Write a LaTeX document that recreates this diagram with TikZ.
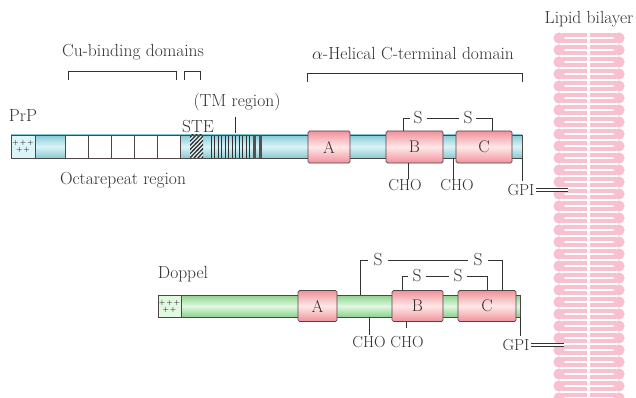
\documentclass[tikz,border=0pt]{standalone}
\usetikzlibrary{calc}
\definecolor{ink}{RGB}{50,50,50}
\definecolor{barblue}{RGB}{135,200,212}
\definecolor{barbluehi}{RGB}{220,245,248}
\definecolor{bargreen}{RGB}{140,210,140}
\definecolor{bargreenhi}{RGB}{225,248,225}
\definecolor{boxpink}{RGB}{240,145,155}
\definecolor{boxpinkhi}{RGB}{255,232,232}
\definecolor{lipid}{RGB}{247,193,209}
\definecolor{edge}{RGB}{80,70,70}
\tikzset{
  lbl/.style={text=ink, inner sep=0pt, font=\fontsize{17.5}{20}\selectfont},
  smalllbl/.style={text=ink, inner sep=0pt, font=\fontsize{16}{18}\selectfont},
  conn/.style={draw=ink, line width=0.8pt},
  bluebar/.style={draw=edge, line width=0.7pt, top color=barblue, bottom color=barblue, middle color=barbluehi},
  greenbar/.style={draw=edge, line width=0.7pt, top color=bargreen, bottom color=bargreen, middle color=bargreenhi},
  pinkbox/.style={draw=edge, line width=0.7pt, rounded corners=1.5pt, top color=boxpink, bottom color=boxpink, middle color=boxpinkhi,
    inner sep=0pt, text=ink, font=\fontsize{17}{18}\selectfont},
  octbox/.style={draw=edge, line width=0.7pt, fill=white},
  ntermbox/.style={draw=edge, line width=0.7pt, inner sep=0pt, font=\fontsize{6}{6}\bfseries\selectfont, text=ink, align=center},
  headc/.style={fill=lipid, draw=none},
}
\begin{document}
\begin{tikzpicture}[x=1pt,y=-1pt]
\useasboundingbox (0,0) rectangle (636,398);
\fill[white] (0,0) rectangle (636,398);

% ---------------- lipid bilayer ----------------
% each phospholipid: one polar head and two fatty-acid tails
\foreach \yy in {38,50,...,398}{
  \foreach \t in {-3,3}{
    \fill[lipid] (562,\yy+\t-1.8) rectangle (586.5,\yy+\t+1.8);
    \fill[lipid] (589.5,\yy+\t-1.8) rectangle (616,\yy+\t+1.8);
  }
  \fill[headc] (559,\yy) circle (5.6);
  \fill[headc] (619,\yy) circle (5.6);
}
\node[lbl] (lipidlbl) at (589,19) {Lipid bilayer};

% ---------------- PrP ----------------
\fill[bluebar] (11,135) rectangle (522,158);
\node[ntermbox, minimum width=24pt, minimum height=23pt, fill=barbluehi] (pn) at (23,146.5) {+\,+\,+\\[1pt]+\,+};
% octarepeats
\foreach \i in {65,88,111,134,157}{
  \draw[octbox] (\i,135) rectangle ++(23,23);
}
% STE hatched block
\begin{scope}
  \clip (190,135) rectangle (203,158);
  \fill[barbluehi] (190,135) rectangle (203,158);
  \foreach \d in {-30,-26,...,20}{
    \draw[ink, line width=1.3pt] (190+\d,160) -- (190+\d+26,133);
  }
\end{scope}
% TM region stripes
\foreach \xx in {211,214.5,218,221.5,225,228.5,232,235.5,239,242.5,246,249.5}{
  \draw[ink, line width=0.8pt] (\xx,135) -- (\xx,158);
}
\fill[ink!85] (253,135) rectangle (256,158);
\fill[ink!85] (258.5,135) rectangle (261.5,158);
\draw[draw=edge, line width=0.7pt] (11,135) rectangle (522,158);

\node[pinkbox, minimum width=42pt, minimum height=32pt] (pA) at (329,147) {A};
\node[pinkbox, minimum width=57pt, minimum height=32pt] (pB) at (414.5,147) {B};
\node[pinkbox, minimum width=56pt, minimum height=32pt] (pC) at (484,147) {C};

\node[lbl] (prp) at (23,116) {PrP};
\node[lbl] (octlbl) at (123,180) {Octarepeat region};
\node[lbl] (ste) at (198,127) {STE};
\node[lbl] (tm) at (237,102) {(TM region)};
\coordinate (tmtop) at (235,117);
\coordinate (tmbot) at (235,133);
\draw[conn] (tmtop) -- (tmbot);

% Cu-binding brackets
\node[lbl] (cu) at (133,52) {Cu-binding domains};
\coordinate (cu1a) at (68,80); \coordinate (cu1b) at (176,80);
\draw[conn] (cu1a) -- ++(0,-9) -| (cu1b);
\coordinate (cu2a) at (184,80); \coordinate (cu2b) at (200,80);
\draw[conn] (cu2a) -- ++(0,-9) -| (cu2b);

% helical domain bracket
\node[lbl] (hel) at (413,54) {$\alpha$-Helical C-terminal domain};
\coordinate (hel1) at (307,82); \coordinate (hel2) at (522,82);
\draw[conn] (hel1) -- ++(0,-9) -| (hel2);

% disulfide bond
\node[lbl] (ps1) at (418,118) {S};
\node[lbl] (ps2) at (468,118) {S};
\draw[conn] ([xshift=-11pt]pB.north) |- ([xshift=-3pt]ps1.west);
\draw[conn] ([xshift=4pt]ps1.east) -- ([xshift=-4pt]ps2.west);
\draw[conn] ([xshift=8pt]pC.north) |- ([xshift=3pt]ps2.east);

% glycosylation
\node[smalllbl] (pcho1) at (405,185) {CHO};
\node[smalllbl] (pcho2) at (457,185) {CHO};
\draw[conn] ([xshift=-6.5pt]pB.south) -- ([xshift=3pt]pcho1.north);
\draw[conn] (453,158) -- ([xshift=-4pt]pcho2.north);

% GPI anchor
\node[smalllbl] (pgpi) at (521,190) {GPI};
\coordinate (pgpitop) at (522,158);
\draw[conn] (pgpitop) -- (522,181);
\coordinate (pgpiend) at (568,190);
\draw[ink, line width=0.8pt, double=white, double distance=1.6pt] (pgpi.east) ++(1.5pt,0) -- (pgpiend);

% ---------------- Doppel ----------------
\fill[greenbar] (158,295) rectangle (520,317);
\node[ntermbox, minimum width=23pt, minimum height=22pt, fill=bargreenhi] (dn) at (169.5,306) {+\,+\,+\\[1pt]+\,+};
\draw[draw=edge, line width=0.7pt] (158,295) rectangle (520,317);

\node[pinkbox, minimum width=39pt, minimum height=31pt] (dA) at (317.5,306) {A};
\node[pinkbox, minimum width=51pt, minimum height=31pt] (dB) at (417.5,306) {B};
\node[pinkbox, minimum width=58pt, minimum height=31pt] (dC) at (487,306) {C};

\node[lbl] (dop) at (183,274) {Doppel};

% outer disulfide
\node[lbl] (ds1) at (378,260) {S};
\node[lbl] (ds2) at (478,260) {S};
\coordinate (dsl) at (360,295);
\draw[conn] (dsl) |- ([xshift=-5pt]ds1.west);
\draw[conn] ([xshift=5pt]ds1.east) -- ([xshift=-5pt]ds2.west);
\draw[conn] ([xshift=15pt]dC.north) |- ([xshift=5pt]ds2.east);
% inner disulfide
\node[lbl] (ds3) at (417,276) {S};
\node[lbl] (ds4) at (458,276) {S};
\draw[conn] ([xshift=-15.5pt]dB.north) |- ([xshift=-4pt]ds3.west);
\draw[conn] ([xshift=4pt]ds3.east) -- ([xshift=-4pt]ds4.west);
\draw[conn] ([xshift=0pt]dC.north) |- ([xshift=4pt]ds4.east);

% glycosylation
\node[smalllbl] (dcho1) at (369,342) {CHO};
\node[smalllbl] (dcho2) at (407,342) {CHO};
\coordinate (dchot) at (369,317);
\draw[conn] (dchot) -- ([yshift=1pt]dcho1.north);
\draw[conn] ([xshift=-11pt]dB.south) -- ([xshift=-11pt,yshift=-6pt]dB.south);

% GPI anchor
\node[smalllbl] (dgpi) at (516,345) {GPI};
\coordinate (dgpitop) at (520,317);
\draw[conn] (dgpitop) -- (520,336);
\coordinate (dgpiend) at (564,345);
\draw[ink, line width=0.8pt, double=white, double distance=1.6pt] (dgpi.east) ++(1.5pt,0) -- (dgpiend);
\end{tikzpicture}
\end{document}
